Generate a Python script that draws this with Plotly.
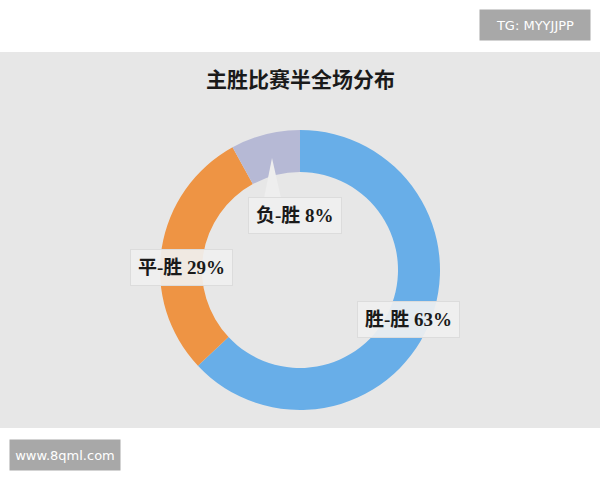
import plotly.graph_objects as go

categories = ["胜-胜", "平-胜", "负-胜"]
values = [63, 29, 8]
colors = ["#68aee8", "#ee9444", "#b6b9d5"]
title_text = "主胜比赛半全场分布"

W, H = 600, 480

def px(x):
    return x / W

def py(y):
    return 1 - y / H

fig = go.Figure()
fig.add_trace(go.Pie(
    labels=categories,
    values=values,
    hole=0.7,
    sort=False,
    direction="clockwise",
    rotation=0,
    marker=dict(colors=colors, line=dict(width=0)),
    textinfo="none",
    hoverinfo="label+percent",
    showlegend=False,
    domain=dict(x=[px(160), px(440)], y=[py(410), py(130)]),
))

label_font = dict(family="Liberation Serif, Noto Sans CJK SC", size=19, color="#1a1a1a")
label_pos = {"胜-胜": (408, 319), "平-胜": (181, 267), "负-胜": (295, 215)}
total = sum(values)
annotations = []
for cat, v in zip(categories, values):
    x, y = label_pos[cat]
    annotations.append(dict(
        x=px(x), y=py(y), xref="paper", yref="paper",
        xanchor="center", yanchor="middle",
        text=f"<b>{cat} {round(v / total * 100)}%</b>",
        showarrow=False, font=label_font,
        bgcolor="rgba(240,240,240,0.92)", bordercolor="#dcdcdc", borderwidth=1,
        borderpad=7,
    ))

annotations.append(dict(
    x=0.5, y=py(78), xref="paper", yref="paper",
    xanchor="center", yanchor="middle",
    text=f"<b>{title_text}</b>", showarrow=False,
    font=dict(family="Noto Sans CJK SC", size=21, color="#1a1a1a"),
))
annotations.append(dict(
    x=px(535), y=py(25), xref="paper", yref="paper",
    xanchor="center", yanchor="middle",
    text="TG: MYYJJPP", showarrow=False,
    font=dict(family="DejaVu Sans", size=13, color="#ffffff"),
    bgcolor="#a8a8a8", width=108, height=28,
))
annotations.append(dict(
    x=px(65), y=py(455), xref="paper", yref="paper",
    xanchor="center", yanchor="middle",
    text="www.8qml.com", showarrow=False,
    font=dict(family="DejaVu Sans", size=13, color="#ffffff"),
    bgcolor="#a8a8a8", width=108, height=28,
))

shapes = [
    dict(type="rect", xref="paper", yref="paper", x0=0, x1=1, y0=py(428), y1=py(52),
         fillcolor="#e7e7e7", line=dict(width=0), layer="below"),
    dict(type="path", xref="paper", yref="paper",
         path=f"M {px(264)},{py(198)} L {px(272)},{py(158)} L {px(281)},{py(198)} Z",
         fillcolor="#eeeeee", line=dict(width=0), layer="above"),
]

fig.update_layout(
    width=W, height=H,
    margin=dict(l=0, r=0, t=0, b=0),
    paper_bgcolor="#ffffff",
    plot_bgcolor="#ffffff",
    annotations=annotations,
    shapes=shapes,
)

fig.write_html(
    "out.html",
    config={"displayModeBar": False},
    post_script="document.body.style.margin='0';document.body.style.overflow='hidden';",
)
